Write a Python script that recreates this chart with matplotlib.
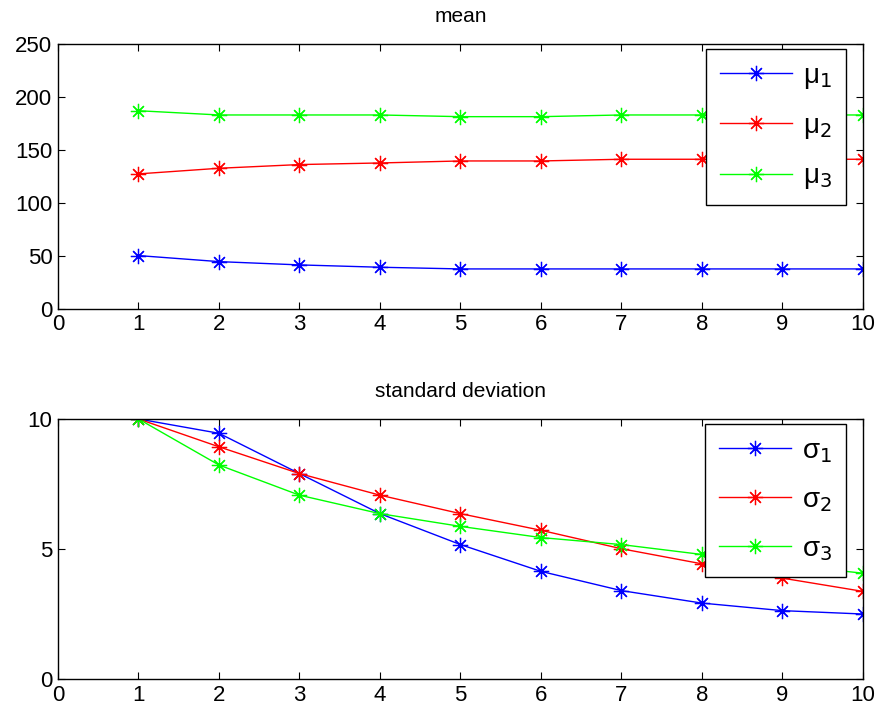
import numpy as np
import matplotlib
matplotlib.use('Agg')
import matplotlib.pyplot as plt

plt.rcParams['font.family'] = ['Liberation Sans Narrow', 'Liberation Sans', 'DejaVu Sans']

iterations = [1, 2, 3, 4, 5, 6, 7, 8, 9, 10]

mu1 = [50.3, 44.6, 41.5, 39.3, 37.7, 37.7, 37.7, 37.7, 37.7, 37.7]
mu2 = [127.4, 132.7, 136.2, 137.7, 139.6, 139.6, 141.2, 141.2, 141.2, 141.2]
mu3 = [187.0, 183.0, 183.0, 183.0, 181.4, 181.4, 183.0, 183.0, 183.0, 183.0]

sigma1 = [10.0, 9.45, 7.9, 6.36, 5.17, 4.14, 3.4, 2.92, 2.63, 2.5]
sigma2 = [10.0, 8.93, 7.9, 7.07, 6.36, 5.72, 5.01, 4.43, 3.88, 3.37]
sigma3 = [10.0, 8.23, 7.07, 6.36, 5.87, 5.44, 5.17, 4.79, 4.4, 4.07]

mean_labels = ['μ$_1$', 'μ$_2$', 'μ$_3$']
std_labels = ['σ$_1$', 'σ$_2$', 'σ$_3$']
colors = ['#0000ff', '#ff0000', '#00ff00']

star = (8, 2, 0)


def style_axes(ax, yticks, ylim):
    ax.set_xlim(0, 10)
    ax.set_ylim(*ylim)
    ax.set_xticks(range(0, 11))
    ax.set_yticks(yticks)
    ax.tick_params(direction='in', top=True, right=True, length=5, width=0.8,
                   labelsize=16, pad=4)
    for s in ax.spines.values():
        s.set_linewidth(1.0)


def draw_panel(ax, series, labels, title, yticks, ylim):
    for vals, lab, c in zip(series, labels, colors):
        ax.plot(iterations, vals, color=c, linewidth=1.0, marker=star,
                markersize=11, markeredgewidth=0.9, label=lab)
    style_axes(ax, yticks, ylim)
    ax.set_title(title, fontsize=15, pad=16)
    leg = ax.legend(loc='upper right', bbox_to_anchor=(0.979, 0.981),
                    borderaxespad=0, fontsize=20, handlelength=2.6,
                    labelspacing=0.8, fancybox=False, framealpha=1,
                    edgecolor='black', borderpad=0.5, handletextpad=0.4)
    leg.get_frame().set_linewidth(1.0)


fig = plt.figure(figsize=(8.84, 7.15), dpi=100)
ax1 = fig.add_axes([0.0656, 0.568, 0.9106, 0.3705])
ax2 = fig.add_axes([0.0656, 0.0503, 0.9106, 0.3637])

draw_panel(ax1, [mu1, mu2, mu3], mean_labels, 'mean', [0, 50, 100, 150, 200, 250], (0, 250))
draw_panel(ax2, [sigma1, sigma2, sigma3], std_labels, 'standard deviation', [0, 5, 10], (0, 10))

fig.savefig('out.png', dpi=100)
